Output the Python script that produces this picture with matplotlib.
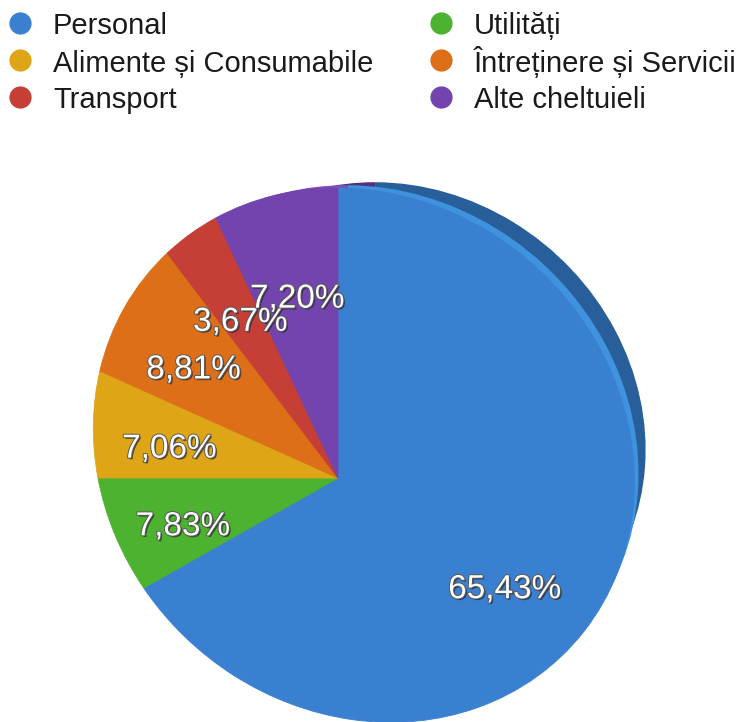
import numpy as np
import matplotlib
matplotlib.use('Agg')
import matplotlib.pyplot as plt
import matplotlib.transforms as mtransforms
import matplotlib.patheffects as pe

# date
labels = ['Personal', 'Utilități', 'Alimente și Consumabile',
          'Întreținere și Servicii', 'Transport', 'Alte cheltuieli']
values = [65.43, 7.83, 7.06, 8.81, 3.67, 7.20]
colors = ['#3a80d0', '#4cb230', '#dea617', '#dd6f18', '#c53f37', '#7343ae']
rim_colors = ['#285e99', '#357f22', '#a07810', '#a05010', '#8e2d27', '#52307d']
glow_colors = ['#3e92de', '#5cc23c', '#e8b42a', '#e67e2a', '#d04c44', '#7e50ba']

plt.rcParams['font.family'] = ['Liberation Sans', 'DejaVu Sans']


class Tilt(mtransforms.Transform):
    # discul inclinat in perspectiva (plan -> ecran, y in jos)
    input_dims = 2
    output_dims = 2

    def __init__(self, cx, cy, m, q):
        super().__init__()
        self.cx, self.cy = cx, cy
        self.m = np.asarray(m, float)
        self.q = np.asarray(q, float)

    def transform_non_affine(self, values):
        p = np.asarray(values, float)
        w = 1 + p @ self.q
        xy = (p @ self.m.T) / w[:, None]
        return np.column_stack([self.cx + xy[:, 0], self.cy - xy[:, 1]])


def shifted(dist, ang, shrink):
    # copie a discului mutata spre dreapta-sus si micsorata
    a = np.radians(ang)
    s = 1 - shrink / 268.0
    return (mtransforms.Affine2D().translate(-367, -454).scale(s)
            .translate(367 + dist * np.cos(a), 454 - dist * np.sin(a)))


fig = plt.figure(figsize=(7.39, 7.22), dpi=100)
ax = fig.add_axes([0, 0, 1, 1])

tilt = Tilt(338, 478, [[266.8, 0.0], [-28.8, 262.2]], [-0.095, -0.096])


def fmt(p):
    return f'{p:.2f}%'.replace('.', ',')


# marginea (grosimea discului) si dunga luminoasa
rim, _ = ax.pie(values, colors=rim_colors, startangle=90, counterclock=False,
                wedgeprops=dict(linewidth=0))
for w in rim:
    w.set_transform(tilt + shifted(46, 40, 24) + ax.transData)
    w.set_zorder(0.5)

glow, _ = ax.pie(values, colors=glow_colors, startangle=90, counterclock=False,
                 wedgeprops=dict(linewidth=0))
for w in glow:
    w.set_transform(tilt + shifted(12, 40, 5) + ax.transData)
    w.set_zorder(0.7)

wedges, texts, autotexts = ax.pie(
    values, colors=colors, startangle=90, counterclock=False,
    autopct=fmt, pctdistance=0.68,
    wedgeprops=dict(linewidth=0.6),
    textprops=dict(color='white', fontsize=24))
for w in wedges:
    w.set_edgecolor(w.get_facecolor())
    w.set_transform(tilt + ax.transData)
    w.set_zorder(1)
nudge = mtransforms.Affine2D().translate(2, 5)
for t in autotexts:
    t.set_transform(tilt + nudge + ax.transData)
    t.set_verticalalignment('center_baseline')
    t.set_zorder(3)
    t.set_path_effects([pe.SimplePatchShadow(offset=(1.2, -1.2), shadow_rgbFace='#222222', alpha=0.7),
                        pe.Stroke(linewidth=1.4, foreground='#5a5a5a'), pe.Normal()])

ax.set_aspect('auto')
ax.set_xlim(0, 739)
ax.set_ylim(722, 0)
ax.axis('off')

# legenda pe doua coloane (3 randuri)
order = [0, 2, 4, 1, 3, 5]
for k, i in enumerate(order):
    col, row = divmod(k, 3)
    x0 = 20 + 421 * col
    y0 = 23 + 37 * row
    ax.plot(x0, y0, 'o', markersize=15, color=colors[i], clip_on=False, zorder=4)
    ax.text(x0 + 33, y0 + 11.5, labels[i], fontsize=21, color='#1a1a1a',
            ha='left', va='baseline', zorder=4)

fig.savefig('out.png', dpi=100)
